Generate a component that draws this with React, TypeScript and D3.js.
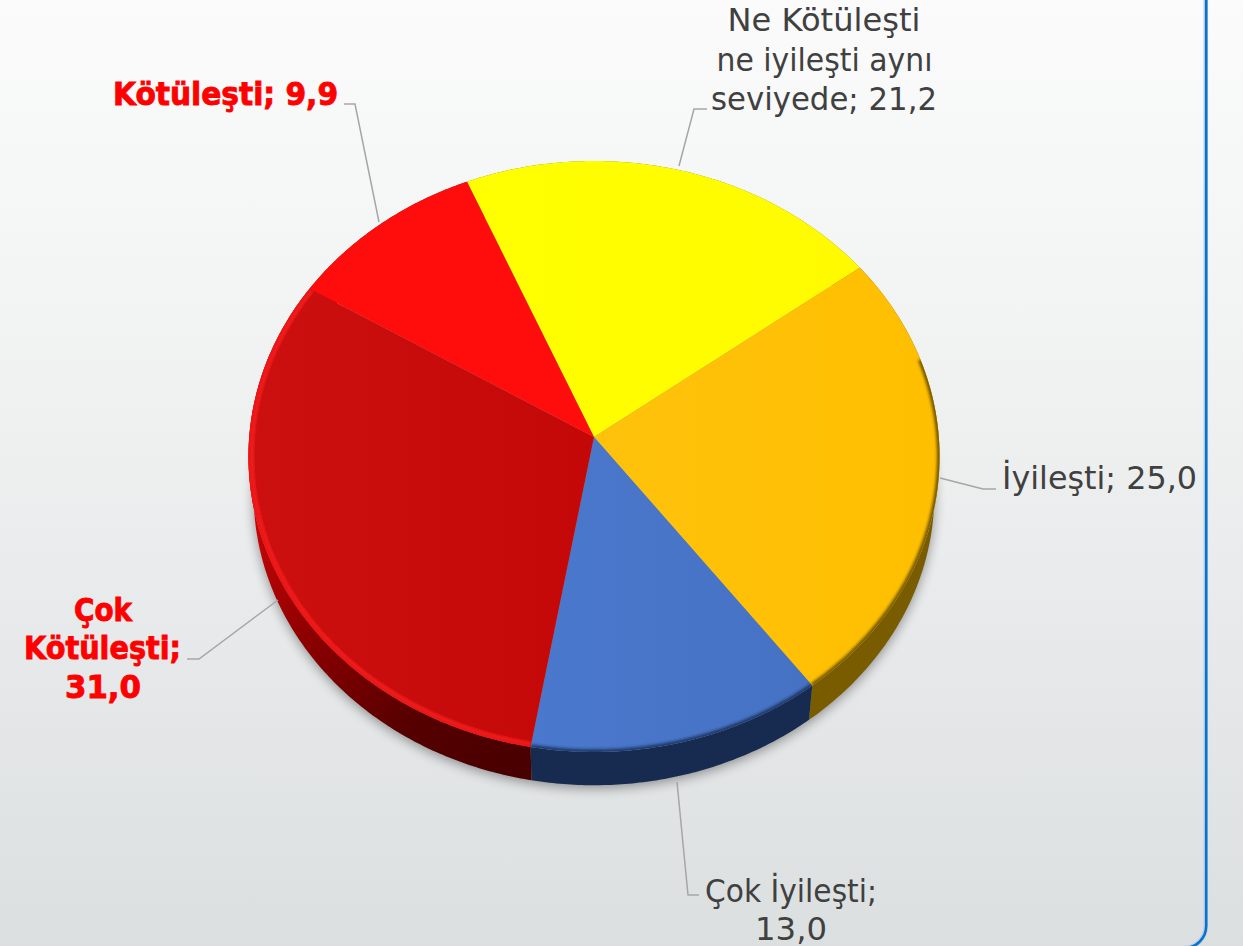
import React from "react";
import * as d3 from "d3";

const categories = ["Ne Kötüleşti ne iyileşti aynı seviyede", "İyileşti", "Çok İyileşti", "Çok Kötüleşti", "Kötüleşti"];
const values = [21.2, 25.0, 13.0, 31.0, 9.9];
const topColors = ["url(#gYellow)", "url(#gOrange)", "url(#gBlue)", "url(#gDark)", "#ff0c0c"];
const wallColors = ["#7f7f00", "#7a5c00", "#172b50", "url(#gWallDark)", "#a00000"];
const rimColors = ["none", "#6e5200", "#1c3462", "#ee1616", "none"];

const W = 1243, H = 946;
const cx = 594, cy = 437;
const A = 294.2, B = 344.8, k = 0.0659;
const startDeg = -23;
const depth = 38, bottomScale = 0.985;

type P = [number, number];
// Perspective projection of a point on the unit disc (angle clockwise from the top).
const project = (a: number, r = 1, dy = 0, s = 1): P => {
  const X = Math.sin(a) * r, Y = Math.cos(a) * r;
  const d = 1 + k * Y;
  return [cx + (B * s * X) / d, cy - (A * s * Y) / d + dy];
};
const line = d3.line<P>();
const samples = (a0: number, a1: number, fn: (a: number) => P) => {
  const n = Math.max(2, Math.ceil(Math.abs(a1 - a0) / 0.01));
  return d3.range(n + 1).map((i) => fn(a0 + ((a1 - a0) * i) / n));
};

const start = (startDeg * Math.PI) / 180;
const arcs = d3.pie<number>().sort(null).startAngle(start).endAngle(start + 2 * Math.PI)(values);

const slicePath = (a0: number, a1: number) =>
  line([[cx, cy], ...samples(a0, a1, (a) => project(a))])! + "Z";
const wallPath = (a0: number, a1: number) =>
  line([
    ...samples(a0, a1, (a) => project(a)),
    ...samples(a1, a0, (a) => project(a, 1, depth, bottomScale)),
  ])! + "Z";
const bottomDisc =
  line(samples(0, 2 * Math.PI, (a) => project(a, 1, depth + 3, bottomScale)))! + "Z";

const labelFont = "'DejaVu Sans', sans-serif";
const boldFont = "'DejaVu Sans', sans-serif";

const labels = [
  { t: "Ne Kötüleşti", x: 824, y: 31, w: 193, bold: false },
  { t: "ne iyileşti aynı", x: 824.5, y: 71, w: 216, bold: false },
  { t: "seviyede; 21,2", x: 824, y: 110, w: 226, bold: false },
  { t: "İyileşti; 25,0", x: 1099.5, y: 489, w: 195, bold: false },
  { t: "Çok İyileşti;", x: 791, y: 902, w: 172, bold: false },
  { t: "13,0", x: 791, y: 940, w: 72, bold: false },
  { t: "Kötüleşti; 9,9", x: 225.5, y: 105, w: 225, bold: true },
  { t: "Çok", x: 103, y: 621, w: 58, bold: true },
  { t: "Kötüleşti;", x: 102.5, y: 659, w: 157, bold: true },
  { t: "31,0", x: 103, y: 698, w: 76, bold: true },
];
const leaders: P[][] = [
  [[344, 104], [355, 104], [379, 222]],
  [[707, 109], [694, 109], [679, 166]],
  [[996, 489], [983, 489], [940, 478]],
  [[699, 895], [688, 895], [677, 782]],
  [[187, 659], [199, 659], [278, 600]],
];

export default function App() {
  return (
    <svg width={W} height={H} style={{ position: "fixed", left: 0, top: 0, display: "block" }}>
      <defs>
        <linearGradient id="bg" x1="0" y1="0" x2="0" y2="1">
          <stop offset="0" stopColor="#fbfbfb" />
          <stop offset="0.4" stopColor="#f0f2f2" />
          <stop offset="1" stopColor="#dcdfe0" />
        </linearGradient>
        <linearGradient id="gYellow" gradientUnits="userSpaceOnUse" x1="470" y1="0" x2="860" y2="0">
          <stop offset="0" stopColor="#ffff00" />
          <stop offset="1" stopColor="#fffa00" />
        </linearGradient>
        <linearGradient id="gOrange" gradientUnits="userSpaceOnUse" x1="600" y1="0" x2="940" y2="0">
          <stop offset="0" stopColor="#ffc20c" />
          <stop offset="1" stopColor="#ffbf00" />
        </linearGradient>
        <linearGradient id="gBlue" gradientUnits="userSpaceOnUse" x1="530" y1="0" x2="810" y2="0">
          <stop offset="0" stopColor="#4a78cc" />
          <stop offset="1" stopColor="#4672c4" />
        </linearGradient>
        <linearGradient id="gDark" gradientUnits="userSpaceOnUse" x1="250" y1="0" x2="594" y2="0">
          <stop offset="0" stopColor="#cc1010" />
          <stop offset="1" stopColor="#c40808" />
        </linearGradient>
        <linearGradient id="gWallDark" gradientUnits="userSpaceOnUse" x1="250" y1="500" x2="520" y2="780">
          <stop offset="0" stopColor="#d00808" />
          <stop offset="0.35" stopColor="#8e0000" />
          <stop offset="0.7" stopColor="#560000" />
          <stop offset="1" stopColor="#480000" />
        </linearGradient>
        <filter id="shadow" x="-10%" y="-10%" width="120%" height="120%">
          <feGaussianBlur stdDeviation="6" />
        </filter>
        <filter id="soft" filterUnits="userSpaceOnUse" x="0" y="0" width={W} height={H}>
          <feGaussianBlur stdDeviation="1.5" />
        </filter>
        <filter id="softer" filterUnits="userSpaceOnUse" x="0" y="0" width={W} height={H}>
          <feGaussianBlur stdDeviation="1" />
        </filter>
        {arcs.map((d, i) => (
          <clipPath id={`clip${i}`} key={i}>
            <path d={slicePath(d.startAngle, d.endAngle)} />
          </clipPath>
        ))}
      </defs>

      <rect width={W} height={H} fill="url(#bg)" />

      <path d="M1205.8,0V926A22,22 0 0 1 1183.8,948" fill="none" stroke="#b0cde8" strokeWidth={4.5} />
      <path d="M1206.2,0V926A22,22 0 0 1 1184.2,948" fill="none" stroke="#0a72c8" strokeWidth={2.5} />

      <path d={bottomDisc} fill="#000" opacity={0.38} filter="url(#shadow)" />

      {arcs.map((d, i) => (
        <path key={i} d={wallPath(d.startAngle, d.endAngle)} fill={wallColors[i]} />
      ))}

      {arcs.map((d, i) => (
        <path key={i} d={slicePath(d.startAngle, d.endAngle)} fill={topColors[i]} />
      ))}

      {arcs.map((d, i) => {
        if (rimColors[i] === "none") return null;
        // The orange rim only darkens towards the lower right of the disc.
        const from = i === 1 ? Math.max(d.startAngle, 1.3) : d.startAngle;
        return (
          <g key={i} clipPath={`url(#clip${i})`}>
            <path
              d={line(samples(from, d.endAngle, (a) => project(a, 0.999)))!}
              fill="none"
              stroke={rimColors[i]}
              strokeWidth={i === 3 ? 9 : 4.5}
              filter="url(#soft)"
            />
            {i === 3 ? (
              <path
                d={line(samples(d.startAngle, d.endAngle, (a) => project(a, 0.988)))!}
                fill="none"
                stroke="#ff3030"
                strokeWidth={1.8}
                opacity={0.45}
                filter="url(#softer)"
              />
            ) : null}
          </g>
        );
      })}

      {leaders.map((p, i) => (
        <path key={i} d={line(p)!} fill="none" stroke="#a6a6a6" strokeWidth={1.5} />
      ))}

      {labels.map((l, i) => (
        <text
          key={i}
          x={l.x}
          y={l.y}
          textAnchor="middle"
          textLength={l.w}
          lengthAdjust="spacingAndGlyphs"
          fontFamily={l.bold ? boldFont : labelFont}
          fontWeight={l.bold ? 700 : 400}
          fontSize={l.bold ? 32 : 31.5}
          fill={l.bold ? "#ff0000" : "#404040"}
          stroke={l.bold ? "#ff0000" : "none"}
          strokeWidth={l.bold ? 0.9 : 0}
        >
          {l.t}
        </text>
      ))}
    </svg>
  );
}
